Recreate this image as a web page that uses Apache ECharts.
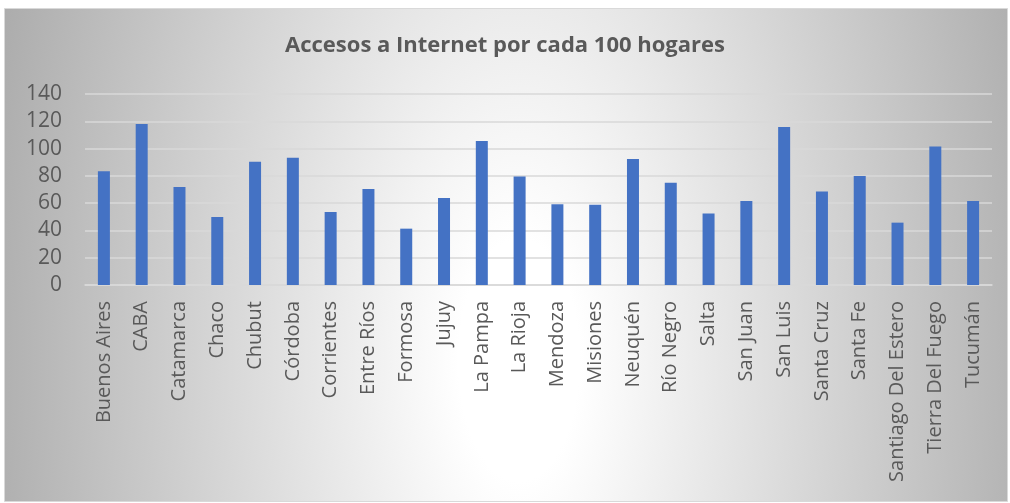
<!DOCTYPE html>
<html>
<head>
<meta charset="utf-8">
<script src="https://cdn.jsdelivr.net/npm/echarts@6/dist/echarts.min.js"></script>
<style>
  html, body { margin: 0; padding: 0; background: #fff; }
  #chart { width: 1010px; height: 503px; }
</style>
</head>
<body>
<div id="chart"></div>
<script>
// provinces and accesses per 100 households
var provinces = ['Buenos Aires', 'CABA', 'Catamarca', 'Chaco', 'Chubut', 'Córdoba', 'Corrientes',
    'Entre Ríos', 'Formosa', 'Jujuy', 'La Pampa', 'La Rioja', 'Mendoza', 'Misiones', 'Neuquén',
    'Río Negro', 'Salta', 'San Juan', 'San Luis', 'Santa Cruz', 'Santa Fe', 'Santiago Del Estero',
    'Tierra Del Fuego', 'Tucumán'];
var accesos = [83.3, 118, 71.8, 49.9, 90.4, 93.3, 53.5, 70.4, 41.3, 63.8, 105.6, 79.6, 59.1, 58.9,
    92.4, 75, 52.5, 61.6, 115.8, 68.6, 79.9, 45.7, 101.6, 61.6];
var yTicks = [0, 20, 40, 60, 80, 100, 120, 140];

var myChart = echarts.init(document.getElementById('chart'));
var option = {
    animation: false,
    backgroundColor: '#ffffff',
    graphic: [
        // chart area fill: elliptical radial gradient (circle squashed by scaleY)
        {
            type: 'rect',
            z: -10,
            x: 4.5,
            y: 8.5,
            scaleY: 2,
            shape: { x: 0, y: 0, width: 1003, height: 246.5 },
            style: {
                fill: {
                    type: 'radial', x: 0.513, y: 0.714, r: 2.45,
                    colorStops: [
                        { offset: 0, color: '#ffffff' },
                        { offset: 0.1, color: '#ffffff' },
                        { offset: 1, color: '#a2a2a2' }
                    ]
                }
            }
        },
        {
            type: 'rect',
            z: -9,
            shape: { x: 4.5, y: 8.5, width: 1003, height: 493 },
            style: { fill: null, stroke: '#d9d9d9', lineWidth: 1 }
        }
    ],
    title: {
        text: 'Accesos a Internet por cada 100 hogares',
        left: 'center',
        top: 30,
        textStyle: {
            fontFamily: 'Open Sans',
            fontSize: 22,
            fontWeight: 'bold',
            color: '#595959'
        }
    },
    grid: { left: 85, right: 18, top: 94, bottom: 218 },
    xAxis: {
        type: 'category',
        data: provinces,
        axisLine: { lineStyle: { color: '#d9d9d9', width: 1.5 } },
        axisTick: { show: false },
        axisLabel: {
            interval: 0,
            rotate: 90,
            margin: 16,
            fontFamily: 'Open Sans',
            fontSize: 20,
            color: '#595959'
        }
    },
    yAxis: {
        type: 'value',
        min: yTicks[0],
        max: yTicks[yTicks.length - 1],
        interval: 20,
        axisLine: { show: false },
        axisTick: { show: false },
        splitLine: { lineStyle: { color: '#d9d9d9', width: 1.5 } },
        axisLabel: {
            margin: 23,
            fontFamily: 'Open Sans',
            fontSize: 21,
            color: '#595959'
        }
    },
    series: [
        {
            type: 'bar',
            data: accesos,
            barWidth: 12,
            itemStyle: { color: '#4472c4' }
        }
    ]
};
myChart.setOption(option);
</script>
</body>
</html>
